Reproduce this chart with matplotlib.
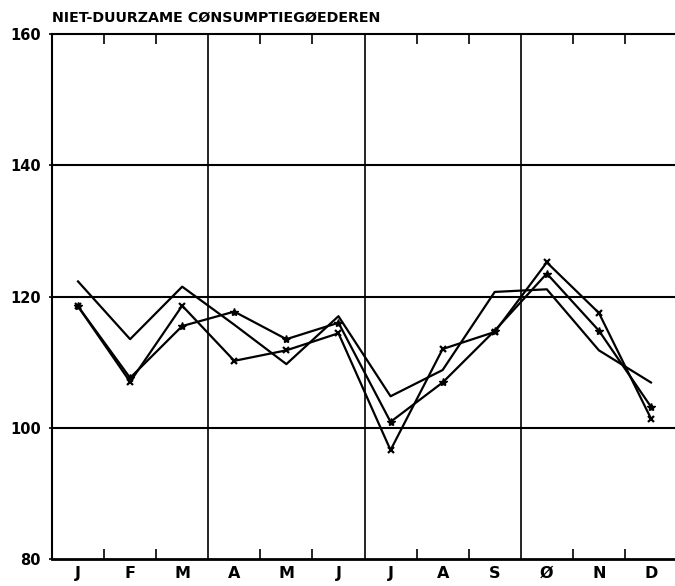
"""Maandindex niet-duurzame consumptiegoederen, drie jaren over elkaar."""
import matplotlib
matplotlib.use('Agg')
import matplotlib.pyplot as plt
import numpy as np

TITLE = 'NIET-DUURZAME CØNSUMPTIEGØEDEREN'
MONTHS = ['J', 'F', 'M', 'A', 'M', 'J', 'J', 'A', 'S', 'Ø', 'N', 'D']
Y_TICKS = [80, 100, 120, 140, 160]

# three series (index values per month)
plain = [122.3, 113.5, 121.5, 115.7, 109.7, 117.0, 104.8, 108.8, 120.7, 121.1, 111.8, 106.9]
cross = [118.5, 107.0, 118.6, 110.2, 111.8, 114.4, 96.6, 112.0, 114.6, 125.2, 117.5, 101.4]
star = [118.5, 107.6, 115.5, 117.7, 113.5, 116.0, 100.9, 106.9, 114.8, 123.5, 114.8, 103.2]

BOLD = dict(family='DejaVu Sans', fontweight='bold')


def main():
    fig = plt.figure(figsize=(6.75, 5.86), dpi=100)
    ax = fig.add_axes([0.077, 0.046, 0.926, 0.896])
    x = np.arange(len(MONTHS)) + 0.5

    ax.plot(x, plain, color='black', lw=1.6, zorder=3)
    ax.plot(x, cross, color='black', lw=1.6, marker='x', ms=5, mew=1.6, zorder=3)
    ax.plot(x, star, color='black', lw=1.6, marker='*', ms=6, zorder=3)

    ax.set_xlim(0, 12)
    ax.set_ylim(80, 160)

    for v in (100, 120, 140):
        ax.axhline(v, color='black', lw=1.5, zorder=1)
    for q in (3, 6, 9):
        ax.axvline(q, color='black', lw=1.2, zorder=1)

    ax.spines['right'].set_visible(False)
    ax.spines['left'].set_linewidth(1.5)
    ax.spines['top'].set_linewidth(1.5)
    ax.spines['bottom'].set_linewidth(2.0)

    minor = [m for m in range(1, 12) if m % 3 != 0]
    ax.set_xticks(minor, minor=True)
    ax.tick_params(axis='x', which='minor', direction='in', length=7, width=1.2,
                   top=True, bottom=True)
    ax.set_xticks(x)
    ax.set_xticklabels(MONTHS, fontsize=11.5, **BOLD)
    ax.tick_params(axis='x', which='major', length=0, pad=5)

    ax.set_yticks(Y_TICKS)
    ax.set_yticklabels([str(v) for v in Y_TICKS], fontsize=10.5, **BOLD)
    ax.tick_params(axis='y', length=2, width=1.2, pad=6)

    fig.text(0.077, 0.958, TITLE, fontsize=10.3, ha='left', va='bottom', **BOLD)

    fig.savefig('out.png', dpi=100)
    plt.close(fig)


if __name__ == '__main__':
    main()
